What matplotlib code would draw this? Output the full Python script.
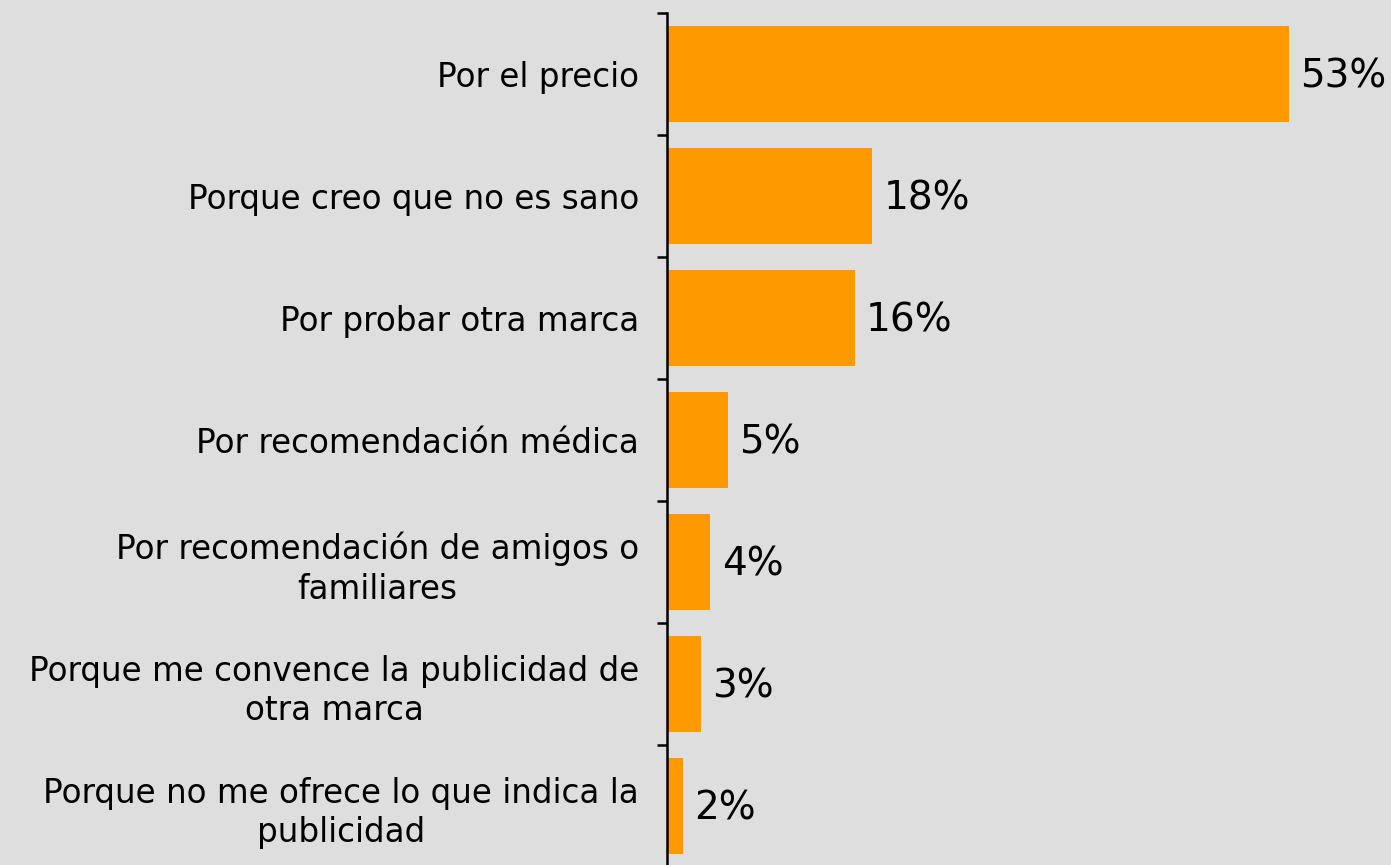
import matplotlib
matplotlib.use("Agg")
import matplotlib.pyplot as plt
import numpy as np

# reasons, top to bottom
categories = [
    "Por el precio",
    "Porque creo que no es sano",
    "Por probar otra marca",
    "Por recomendación médica",
    "Por recomendación de amigos o\nfamiliares",
    "Porque me convence la publicidad de\notra marca",
    "Porque no me ofrece lo que indica la\npublicidad",
]
values = [53, 17.5, 16, 5.2, 3.7, 2.9, 1.4]
value_labels = ["53%", "18%", "16%", "5%", "4%", "3%", "2%"]

bg = "#DEDEDE"
bar_color = "#FF9900"

fig = plt.figure(figsize=(13.91, 8.65), dpi=100, facecolor=bg)
ax = fig.add_axes([667 / 1391, -2 / 865, 724 / 1391, 854 / 865])
ax.set_facecolor(bg)

y = np.arange(len(categories))
ax.barh(y, values, height=0.78, color=bar_color)
ax.set_ylim(len(categories) - 0.5, -0.5)
ax.set_xlim(0, 61.7)

for yi, v, lab in zip(y, values, value_labels):
    ax.text(v + 0.95, yi + 0.02, lab, va="center", ha="left", fontsize=28, color="black")

ax.set_yticks(y)
ax.set_yticklabels(categories, fontsize=23.5, multialignment="center", linespacing=1.25)
ax.tick_params(axis="y", which="major", length=0, pad=20)
ax.set_yticks(np.arange(len(categories) + 1) - 0.5, minor=True)
ax.tick_params(axis="y", which="minor", length=7.5, width=1.8, direction="out")

ax.set_xticks([])
for s in ["top", "right", "bottom"]:
    ax.spines[s].set_visible(False)
ax.spines["left"].set_linewidth(1.8)

fig.savefig("out.png", dpi=100, facecolor=bg)
